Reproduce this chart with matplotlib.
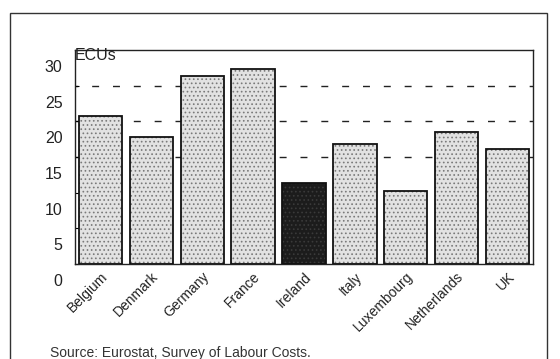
import numpy as np
import matplotlib
matplotlib.use("Agg")
import matplotlib.pyplot as plt
import matplotlib.transforms as mtransforms
from matplotlib.patches import Rectangle

# hourly labour costs, ECUs
countries = ["Belgium", "Denmark", "Germany", "France", "Ireland",
             "Italy", "Luxembourg", "Netherlands", "UK"]
costs = [20.7, 17.8, 26.4, 27.3, 11.4, 16.8, 10.2, 18.5, 16.1]
yticks = [0, 5, 10, 15, 20, 25, 30]
grid_levels = [15, 20, 25]

plt.rcParams["font.family"] = ["Liberation Sans", "DejaVu Sans"]
plt.rcParams["lines.scale_dashes"] = False
plt.rcParams["hatch.linewidth"] = 0.7

fig = plt.figure(figsize=(5.6, 3.59), dpi=100)
ax = fig.add_axes([75 / 560, 1 - 264 / 359, (533 - 75) / 560, (264 - 50) / 359])

x = np.arange(len(countries))
fills = ["#e2e2e2"] * len(countries)
hatch_cols = ["#7a7a7a"] * len(countries)
dark = countries.index("Ireland")
fills[dark] = "#1c1c1c"
hatch_cols[dark] = "#3a3a3a"

# dashed reference lines behind the bars
for lev in grid_levels:
    ax.axhline(lev, color="#222222", lw=1.0, ls=(3, (5, 10)), zorder=0)

for xi, c, fc, hc in zip(x, costs, fills, hatch_cols):
    ax.bar(xi, c, width=0.85, color=fc, edgecolor=hc, hatch="....",
           linewidth=0, zorder=2)
ax.bar(x, costs, width=0.85, fill=False, edgecolor="#111111", linewidth=1.3,
       zorder=3)

ax.set_xlim(-0.5, len(countries) - 0.5)
ax.set_ylim(0, 30)
ax.set_yticks(yticks)
ax.set_yticklabels([str(t) for t in yticks], fontsize=11.5, color="#222222")
ax.tick_params(axis="y", direction="in", length=3, pad=9)
ax.set_xticks(x)
ax.set_xticklabels(countries, rotation=45, ha="right", rotation_mode="anchor",
                   fontsize=10, color="#222222")
ax.tick_params(axis="x", length=0, pad=4)

# the printed labels sit a little below their ticks
shift = mtransforms.ScaledTranslation(0, -16 / 100, fig.dpi_scale_trans)
for lab in ax.get_yticklabels():
    lab.set_transform(lab.get_transform() + shift)

for sp in ax.spines.values():
    sp.set_linewidth(1.0)
    sp.set_color("#222222")

ax.text(0.0, 1.01, "ECUs", transform=ax.transAxes, ha="left", va="top",
        fontsize=11.5, color="#222222")

fig.text(50 / 560, 1 - 346 / 359, "Source: Eurostat, Survey of Labour Costs.",
         ha="left", va="top", fontsize=10, color="#333333")

# outer frame of the printed figure
fig.patches.append(Rectangle((10 / 560, -0.1), (547 - 10) / 560, 0.1 + 1 - 13 / 359,
                             transform=fig.transFigure, fill=False,
                             edgecolor="#333333", linewidth=1.0))

fig.savefig("out.png", dpi=100)
